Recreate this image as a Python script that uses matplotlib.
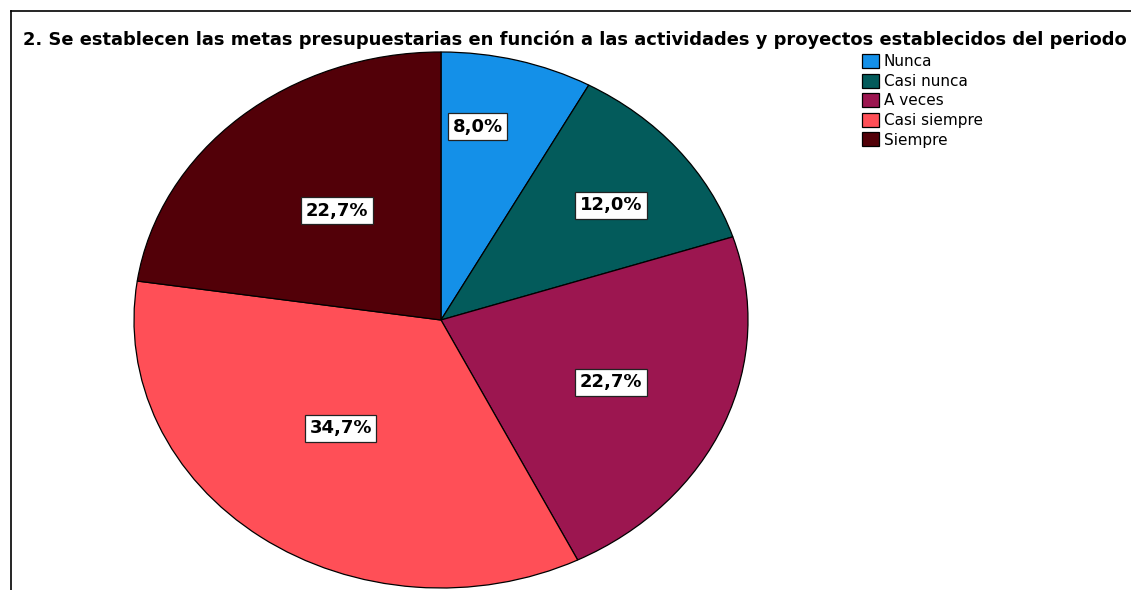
import numpy as np
import matplotlib
matplotlib.use("Agg")
import matplotlib.pyplot as plt
from matplotlib.lines import Line2D

categories = ["Nunca", "Casi nunca", "A veces", "Casi siempre", "Siempre"]
values = [8.0, 12.0, 22.7, 34.7, 22.7]
labels = ["8,0%", "12,0%", "22,7%", "34,7%", "22,7%"]
colors = ["#1490E8", "#035B5B", "#9C1650", "#FF4F57", "#520008"]
title = "2. Se establecen las metas presupuestarias en función a las actividades y proyectos establecidos del periodo"

# label placement (style): radial fraction and angular nudge in degrees
label_r = [0.73, 0.70, 0.60, 0.52, 0.53]
label_nudge = [-5, 2, 0, 3, 1]

plt.rcParams['font.family'] = ['DejaVu Sans']

W, H = 1131, 590
fig = plt.figure(figsize=(W / 100, H / 100), dpi=100)

# pie axes spanning the ellipse
cx, cy, rx, ry = 441, 320, 307, 268
ax = fig.add_axes([(cx - rx) / W, (H - cy - ry) / H, 2 * rx / W, 2 * ry / H])
wedges, _ = ax.pie(values, colors=colors, startangle=90, counterclock=False,
                   wedgeprops=dict(edgecolor="black", linewidth=0.9))
ax.set_aspect('auto')
ax.set_xlim(-1, 1)
ax.set_ylim(-1, 1)
ax.axis('off')

total = sum(values)
cum = 0.0
for v, lab, r, nd in zip(values, labels, label_r, label_nudge):
    mid = (cum + v / 2) / total * 360.0 + nd  # clockwise from top
    cum += v
    a = np.deg2rad(mid)
    x = r * np.sin(a)
    y = r * np.cos(a)
    ax.text(x, y, lab, ha='center', va='center', fontsize=13, fontweight='bold',
            bbox=dict(boxstyle='square,pad=0.25', facecolor='white', edgecolor='#222222', linewidth=0.9))

fig.text(23 / W, 1 - 40 / H, title, ha='left', va='center', fontsize=12.9, fontweight='bold')

fig.legend(wedges, categories, loc='upper left', bbox_to_anchor=(862 / W, 1 - 54 / H),
           frameon=False, fontsize=11, handlelength=1.1, handleheight=1.05,
           handletextpad=0.33, labelspacing=0.28, borderpad=0, borderaxespad=0)

# frame lines
fig.add_artist(Line2D([11 / W, 11 / W], [0, 1 - 11 / H], color='black', linewidth=1.2, transform=fig.transFigure))
fig.add_artist(Line2D([11 / W, 1], [1 - 11 / H, 1 - 11 / H], color='black', linewidth=1.2, transform=fig.transFigure))

fig.savefig("out.png", dpi=100)
